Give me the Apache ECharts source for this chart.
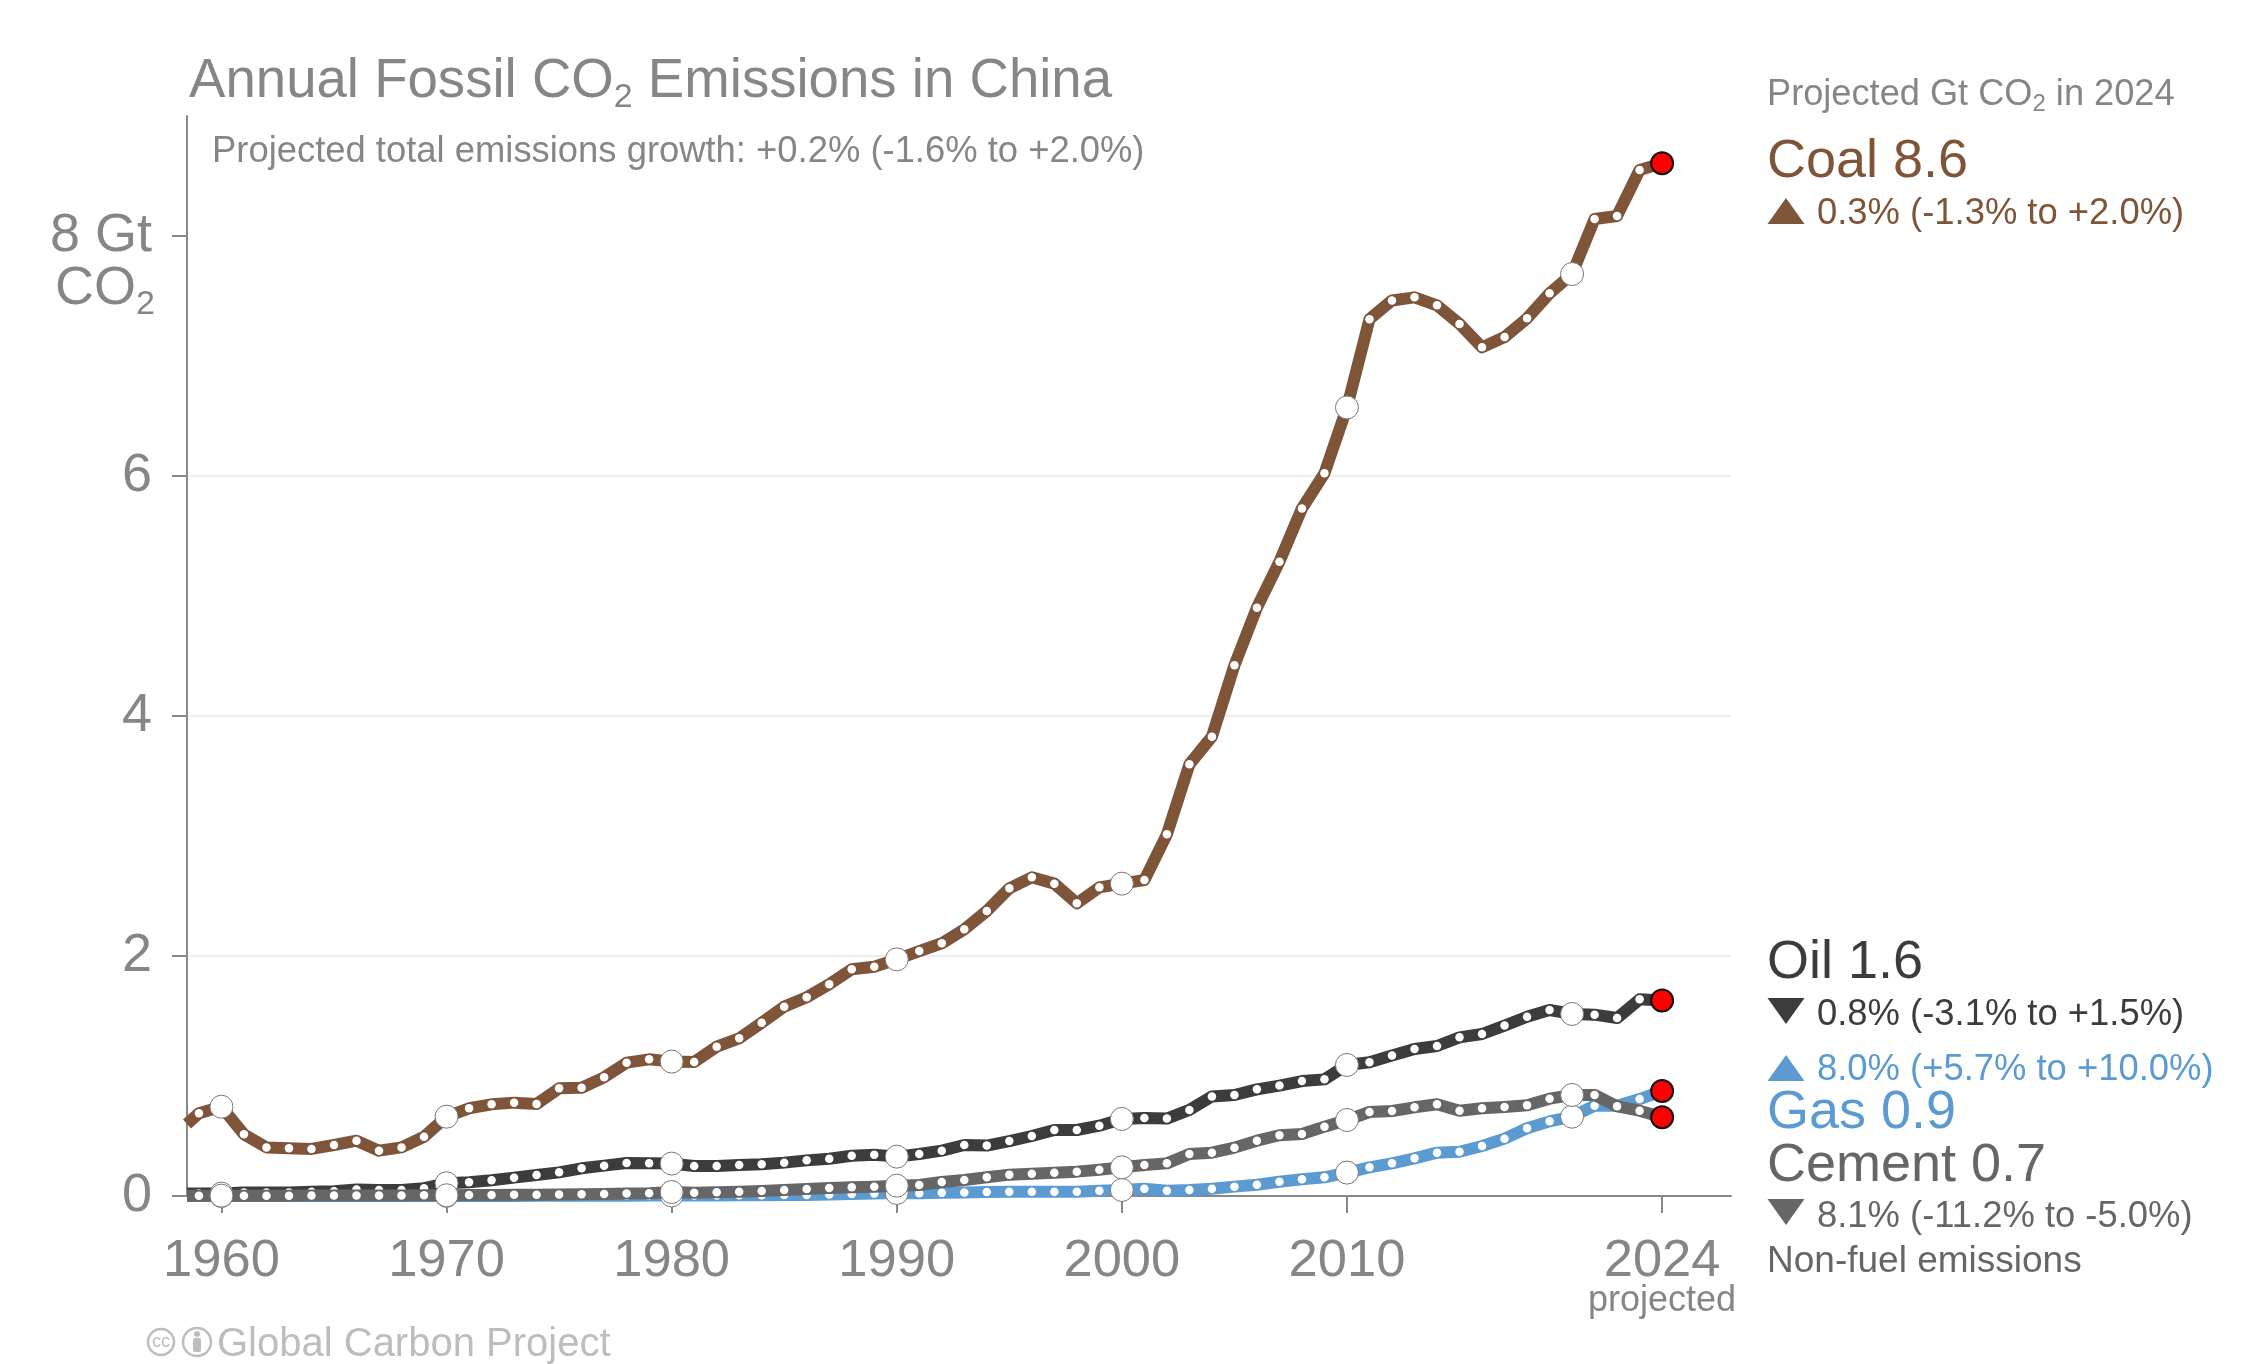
<!DOCTYPE html>
<html><head><meta charset="utf-8">
<script src="https://cdn.jsdelivr.net/npm/echarts@6/dist/echarts.min.js"></script>
<style>html,body{margin:0;padding:0;background:#fff}#c{width:2242px;height:1364px}</style>
</head><body><div id="c"></div>
<script>
// First entry is where the lines are cut by the y axis, then 1959..2024
const years = [1958.47];
for (let y = 1959; y <= 2024; y++) years.push(y);

const coal = [0.60,0.689,0.744,0.514,0.405,0.398,0.392,0.425,0.461,0.378,0.405,0.494,
  0.661,0.731,0.764,0.778,0.767,0.897,0.902,0.989,1.111,1.139,
  1.12,1.117,1.244,1.314,1.444,1.578,1.656,1.764,1.889,1.911,
  1.972,2.041,2.106,2.222,2.375,2.564,2.656,2.603,2.439,2.572,
  2.603,2.633,3.014,3.597,3.828,4.422,4.903,5.286,5.73,6.022,
  6.571,7.307,7.463,7.489,7.422,7.267,7.072,7.158,7.314,7.522,
  7.683,8.142,8.167,8.55,8.606];
const oil = [0.02,0.02,0.02,0.03,0.03,0.03,0.035,0.04,0.055,0.05,0.05,0.065,
  0.106,0.114,0.131,0.153,0.175,0.197,0.231,0.253,0.275,0.272,
  0.27,0.25,0.25,0.258,0.264,0.278,0.297,0.311,0.336,0.344,
  0.328,0.35,0.378,0.425,0.42,0.458,0.5,0.55,0.55,0.586,
  0.642,0.65,0.645,0.717,0.83,0.842,0.889,0.92,0.958,0.972,
  1.092,1.114,1.17,1.225,1.25,1.322,1.35,1.42,1.494,1.55,
  1.517,1.511,1.483,1.639,1.63];
const gas = [0,0,0,0,0,0,0,0,0,0,0,0,
  0.001,0.001,0.001,0.001,0.002,0.002,0.002,0.003,0.003,0.004,
  0.004,0.005,0.005,0.006,0.007,0.008,0.009,0.012,0.016,0.02,
  0.025,0.022,0.028,0.03,0.033,0.036,0.036,0.036,0.036,0.044,
  0.05,0.061,0.044,0.05,0.061,0.078,0.094,0.119,0.139,0.156,
  0.195,0.239,0.272,0.314,0.361,0.369,0.417,0.478,0.564,0.622,
  0.661,0.753,0.753,0.808,0.875];
const cement = [0.002,0.002,0.003,0.003,0.003,0.003,0.004,0.004,0.005,0.005,0.005,0.006,
  0.006,0.008,0.009,0.01,0.011,0.012,0.014,0.016,0.02,0.022,
  0.033,0.028,0.031,0.036,0.042,0.05,0.058,0.067,0.072,0.078,
  0.086,0.092,0.117,0.133,0.156,0.178,0.186,0.194,0.203,0.219,
  0.239,0.258,0.272,0.35,0.361,0.403,0.461,0.506,0.517,0.578,
  0.633,0.7,0.708,0.739,0.764,0.711,0.731,0.742,0.756,0.811,
  0.842,0.842,0.747,0.711,0.656];

const xTicks = [1960,1970,1980,1990,2000,2010,2024];
const yTicks = [0,2,4,6,8];
const colors = {coal:'#7f5539', oil:'#3c3c3c', gas:'#5b9bd1', cement:'#666666'};
const grey = '#868686';
const FONT = '"Liberation Sans", Helvetica, Arial, sans-serif';

function points(vals){
  return vals.map((v,i)=>{
    const y = years[i];
    if (i === 0) return {value:[y,v], symbolSize:0};
    if (y === 2024) return {value:[y,v], symbolSize:22, itemStyle:{color:'#ff0000',borderColor:'#111',borderWidth:2}};
    if (y % 10 === 0) return {value:[y,v], symbolSize:23, itemStyle:{color:'#fff',borderColor:'#777',borderWidth:1}};
    return {value:[y,v], symbolSize:8.5, itemStyle:{color:'#fff',borderWidth:0}};
  });
}
function line(name, vals, color, z){
  return {name, type:'line', data:points(vals), z, clip:false, symbol:'circle', showSymbol:true, showAllSymbol:true,
    smooth:false, lineStyle:{color, width:12, join:'round', cap:'butt'}, itemStyle:{color:'#fff'},
    emphasis:{disabled:true}, silent:true};
}
// y is the text baseline
function txt(text,x,y,size,fill,align){
  return {type:'text', z:50, silent:true, style:{text,x,y:y-size*0.347+4,fill,font:size+'px '+FONT,textAlign:align||'left',textVerticalAlign:'middle'}};
}
function sub(parts,x,y,size,subSize,fill){
  // one text element; the subscript sits low inside a taller line
  return {type:'text', z:50, silent:true, style:{x,y,fill,textAlign:'left',textVerticalAlign:'top',
    text:parts, rich:{
      m:{font:size+'px '+FONT,fill,lineHeight:size*1.2},
      s:{font:subSize+'px '+FONT,fill,lineHeight:subSize*1.1,verticalAlign:'bottom'}
    }}};
}
function tri(x,top,bottom,up,fill){
  const pts = up ? [[x,bottom],[x+37,bottom],[x+18.5,top]] : [[x,top],[x+37,top],[x+18.5,bottom]];
  return {type:'polygon', z:50, silent:true, shape:{points:pts}, style:{fill}};
}

const graphic = [
  sub('{m|Annual Fossil CO}{s|2}{m| Emissions in China}',189,49,54.6,34,grey),
  txt('Projected total emissions growth: +0.2% (-1.6% to +2.0%)',212,161,36.4,grey),
  sub('{m|CO}{s|2}',55,257,54,34,grey),
  sub('{m|Projected Gt CO}{s|2}{m| in 2024}',1767,73,36.2,24,grey),
  txt('Coal 8.6',1767,177,54,colors.coal),
  tri(1767.5,198,224,true,colors.coal),
  txt('0.3% (-1.3% to +2.0%)',1817,223,36.4,colors.coal),
  txt('Oil 1.6',1767,978,54,colors.oil),
  tri(1767.5,998,1024,false,colors.oil),
  txt('0.8% (-3.1% to +1.5%)',1817,1024,36.4,colors.oil),
  tri(1767.5,1055,1081,true,colors.gas),
  txt('8.0% (+5.7% to +10.0%)',1817,1079,36.4,colors.gas),
  txt('Gas 0.9',1767,1128,54,colors.gas),
  txt('Cement 0.7',1767,1181,54,colors.cement),
  tri(1767.5,1199,1225,false,colors.cement),
  txt('8.1% (-11.2% to -5.0%)',1817,1226,36.4,colors.cement),
  txt('Non-fuel emissions',1767,1271,37,colors.cement),
  txt('projected',1662,1310,36,grey,'center'),
  txt('Global Carbon Project',217,1355,40,'#bdbdbd'),
  {type:'circle',z:50,silent:true,shape:{cx:161,cy:1342,r:13},style:{fill:'none',stroke:'#bdbdbd',lineWidth:2.5}},
  txt('cc',161,1344,18,'#bdbdbd','center'),
  {type:'circle',z:50,silent:true,shape:{cx:197,cy:1342,r:14},style:{fill:'none',stroke:'#bdbdbd',lineWidth:2.5}},
  {type:'circle',z:50,silent:true,shape:{cx:197,cy:1334,r:3},style:{fill:'#bdbdbd'}},
  {type:'rect',z:50,silent:true,shape:{x:193,y:1338,width:8,height:14,r:2},style:{fill:'#bdbdbd'}}
];

const chart = echarts.init(document.getElementById('c'), null, {renderer:'canvas'});
chart.setOption({
  animation:false,
  backgroundColor:'#ffffff',
  textStyle:{fontFamily:FONT},
  grid:{left:187, right:511, top:116, bottom:168, containLabel:false},
  xAxis:{type:'value', min:1958.47, max:2027.06,
    splitLine:{show:false},
    axisLine:{show:true, onZero:true, lineStyle:{color:'#888',width:2}},
    axisTick:{show:true, customValues:xTicks, length:17, lineStyle:{color:'#888',width:2}},
    axisLabel:{show:true, customValues:xTicks, fontFamily:FONT, fontSize:52.5, color:grey, margin:39, hideOverlap:false,
      showMinLabel:true, showMaxLabel:true, formatter:v=>String(v)}
  },
  yAxis:{type:'value', min:0, max:9,
    splitLine:{show:true, lineStyle:{color:'#eeeeee',width:2}, showMinLine:false, showMaxLine:false},
    axisLine:{show:true, lineStyle:{color:'#888',width:2}},
    axisTick:{show:true, customValues:yTicks, length:15, lineStyle:{color:'#888',width:2}},
    axisLabel:{show:true, customValues:yTicks, fontFamily:FONT, fontSize:54, color:grey, margin:35,
      formatter:v=>v===8?'8 Gt':String(v)}
  },
  series:[
    line('Coal',coal,colors.coal,2),
    line('Gas',gas,colors.gas,3),
    line('Oil',oil,colors.oil,4),
    line('Cement',cement,colors.cement,5)
  ],
  graphic
});
</script></body></html>
